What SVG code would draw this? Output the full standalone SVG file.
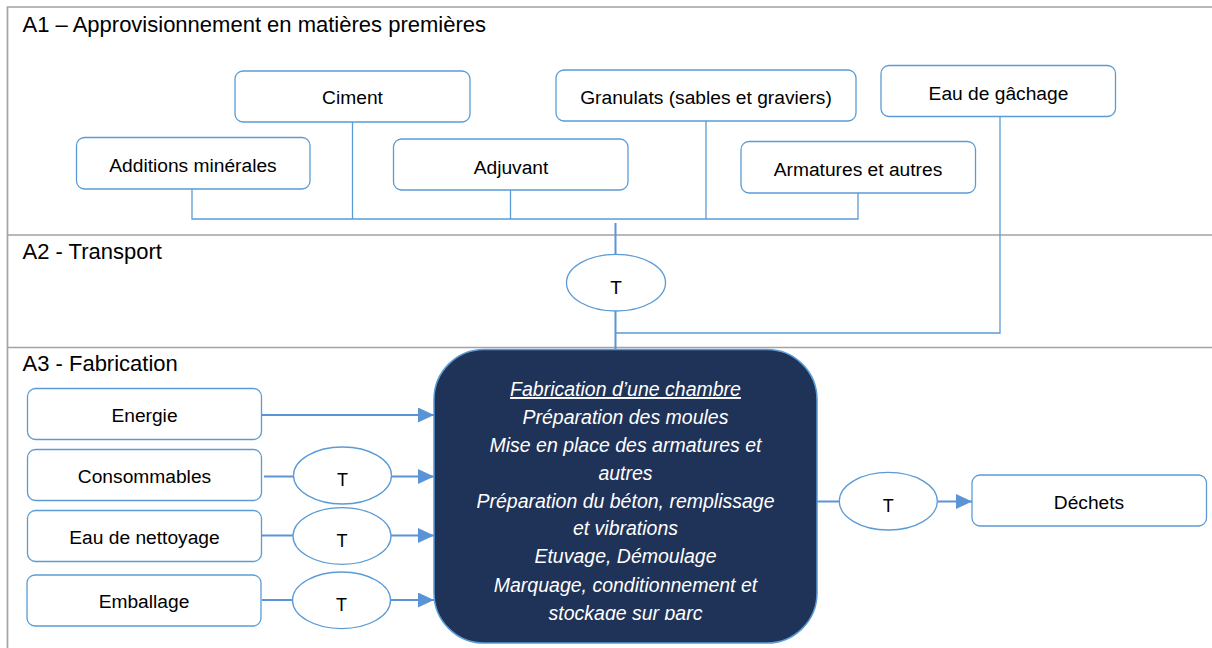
<svg xmlns="http://www.w3.org/2000/svg" width="1212" height="648" viewBox="0 0 1212 648">
<style>
.grid{stroke:#A3A3A3;stroke-width:1.7;fill:none}
.hdr{font-family:"Liberation Sans",Arial,sans-serif;font-size:22px;fill:#000}
.box{fill:#fff;stroke:#5B9BD5;stroke-width:1.3}
.lbl{font-family:"Liberation Sans",Arial,sans-serif;font-size:19.2px;fill:#000;text-anchor:middle}
.tl{font-family:"Liberation Sans",Arial,sans-serif;font-size:18px;fill:#000;text-anchor:middle}
.thin{stroke:#5B9BD5;stroke-width:1.3;fill:none}
.thick{stroke:#5B93D7;stroke-width:2;fill:none}
.arr{stroke:#5B93D7;stroke-width:2;fill:none;marker-end:url(#ah)}
.main{fill:#1F3257;stroke:#5B9BD5;stroke-width:1.5}
.mt{font-family:"Liberation Sans",Arial,sans-serif;font-size:19.5px;font-style:italic;fill:#fff;text-anchor:middle}
</style>
<defs>
<marker id="ah" markerUnits="userSpaceOnUse" markerWidth="16" markerHeight="16" refX="16" refY="7.5" orient="auto">
<path d="M0,0 L16,7.5 L0,15 z" fill="#5B93D7"/>
</marker>
<clipPath id="clipText"><rect x="434" y="350" width="383" height="270"/></clipPath>
</defs>
<rect width="1212" height="648" fill="#fff"/>
<g id="table">
<path class="grid" d="M7.5,648 V7 H1212 M7.5,235 H1212 M7.5,347.5 H1212"/>
<text class="hdr" x="22.5" y="31.5">A1 – Approvisionnement en matières premières</text>
<text class="hdr" x="22.5" y="258.5">A2 - Transport</text>
<text class="hdr" x="22.5" y="370.5">A3 - Fabrication</text>
</g>
<g id="connectors">
<path class="thin" d="M192,189 V219 H858 V193 M352.5,122 V219 M510.5,190 V219 M706,121 V219"/>
<path class="thin" d="M1000,117 V333 H615.5"/>
<path class="thick" d="M615.5,223 V254.5 M615.5,311 V349"/>
<path class="arr" d="M262,415 H434"/>
<path class="thick" d="M264,476.5 H293.5"/>
<path class="arr" d="M391.5,476.5 H434"/>
<path class="thick" d="M262,535.5 H293"/>
<path class="arr" d="M391,535.5 H434"/>
<path class="thick" d="M262,600 H292.5"/>
<path class="arr" d="M390.5,600 H434"/>
<path class="thick" d="M817,501.5 H839.5"/>
<path class="arr" d="M937.5,501.5 H972"/>
</g>
<g id="ciment"><rect class="box" x="235" y="71" width="235" height="51" rx="8"/><text class="lbl" x="352.5" y="104">Ciment</text></g>
<g id="additions"><rect class="box" x="76.5" y="137.5" width="233.5" height="51.5" rx="8"/><text class="lbl" x="193" y="171.5">Additions minérales</text></g>
<g id="adjuvant"><rect class="box" x="393.5" y="139" width="234.5" height="51" rx="8"/><text class="lbl" x="511" y="173.5">Adjuvant</text></g>
<g id="granulats"><rect class="box" x="556" y="70" width="300" height="51" rx="8"/><text class="lbl" x="706" y="104">Granulats (sables et graviers)</text></g>
<g id="armatures"><rect class="box" x="741" y="141.5" width="234.5" height="51.5" rx="8"/><text class="lbl" x="858" y="176">Armatures et autres</text></g>
<g id="eau-gachage"><rect class="box" x="881" y="65.5" width="234.5" height="51" rx="8"/><text class="lbl" x="998.5" y="99.5">Eau de gâchage</text></g>
<g id="t-transport"><ellipse class="box" cx="616" cy="282.7" rx="49.5" ry="28.3"/><text class="tl" x="616" y="294" style="font-size:19px">T</text></g>
<g id="energie"><rect class="box" x="27.5" y="388.5" width="234" height="51" rx="8"/><text class="lbl" x="144.5" y="421.5">Energie</text></g>
<g id="consommables"><rect class="box" x="27.5" y="449.5" width="234" height="51" rx="8"/><text class="lbl" x="144.5" y="482.5">Consommables</text></g>
<g id="eau-nettoyage"><rect class="box" x="27.5" y="510.5" width="234" height="51" rx="8"/><text class="lbl" x="144.5" y="544">Eau de nettoyage</text></g>
<g id="emballage"><rect class="box" x="27" y="575" width="234" height="51" rx="8"/><text class="lbl" x="144" y="607.5">Emballage</text></g>
<g id="t-consommables"><ellipse class="box" cx="342.5" cy="475.5" rx="49" ry="28.5"/><text class="tl" x="342.5" y="486">T</text></g>
<g id="t-nettoyage"><ellipse class="box" cx="342" cy="536" rx="49" ry="28.3"/><text class="tl" x="342" y="546.5">T</text></g>
<g id="t-emballage"><ellipse class="box" cx="341.5" cy="600.3" rx="49" ry="28.3"/><text class="tl" x="341.5" y="610.7">T</text></g>
<g id="fabrication">
<rect class="main" x="434" y="349.5" width="383" height="293.5" rx="50"/>
<g clip-path="url(#clipText)">
<text class="mt" x="625.5" y="396" text-decoration="underline">Fabrication d’une chambre</text>
<text class="mt" x="625.5" y="424">Préparation des moules</text>
<text class="mt" x="625.5" y="452">Mise en place des armatures et</text>
<text class="mt" x="625.5" y="479.5">autres</text>
<text class="mt" x="625.5" y="507.5">Préparation du béton, remplissage</text>
<text class="mt" x="625.5" y="535">et vibrations</text>
<text class="mt" x="625.5" y="563">Etuvage, Démoulage</text>
<text class="mt" x="625.5" y="591.5">Marquage, conditionnement et</text>
<text class="mt" x="625.5" y="619.5">stockage sur parc</text>
</g>
</g>
<g id="t-dechets"><ellipse class="box" cx="888.3" cy="501.2" rx="49" ry="28.8"/><text class="tl" x="888.3" y="511.7">T</text></g>
<g id="dechets"><rect class="box" x="972" y="475" width="234.5" height="51" rx="8"/><text class="lbl" x="1089" y="509">Déchets</text></g>
</svg>
